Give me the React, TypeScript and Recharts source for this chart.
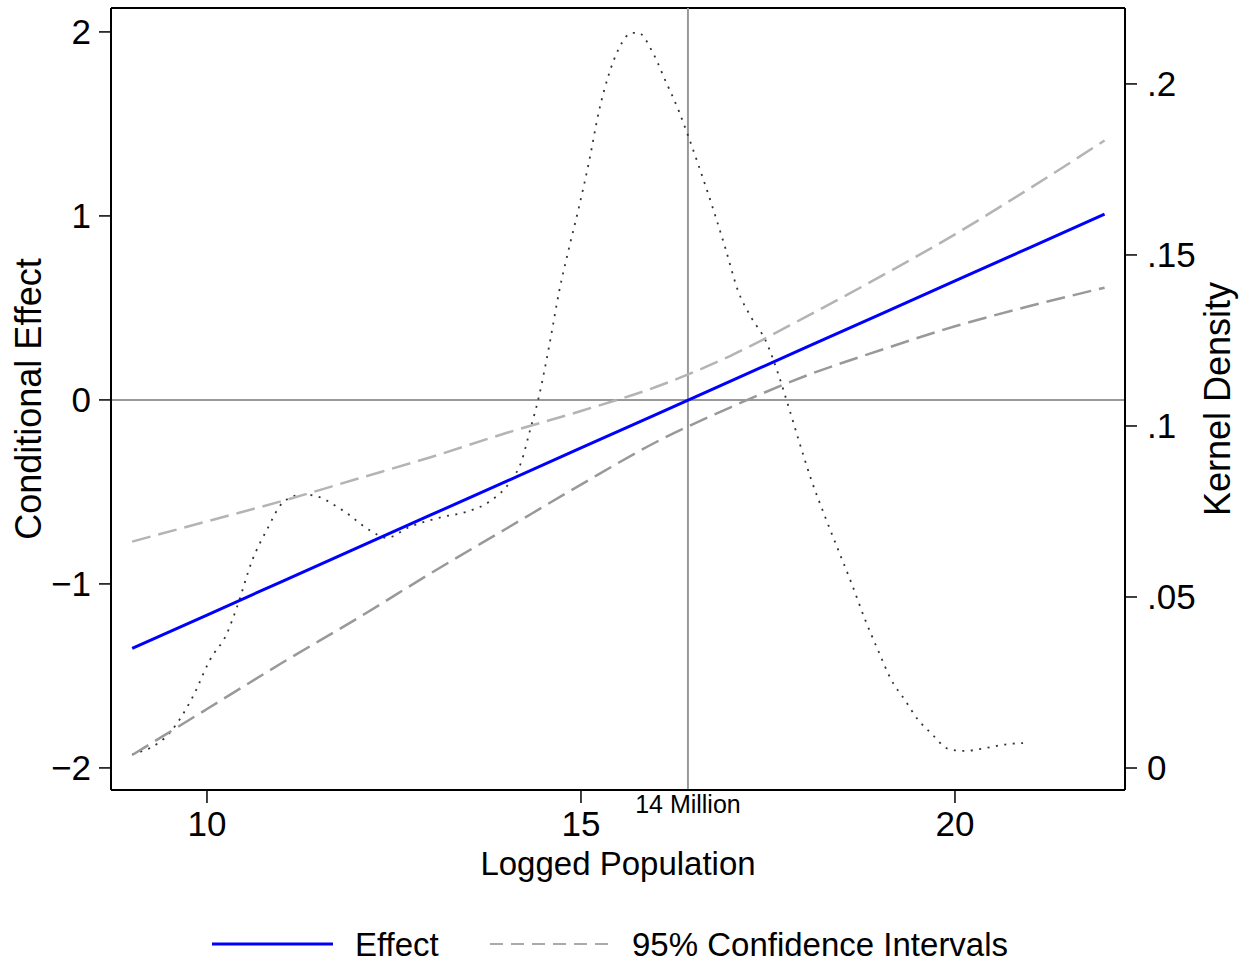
import { ComposedChart, Line, XAxis, YAxis, ReferenceLine, Legend } from "recharts";

// logged population grid for the marginal effect line
const popGrid = [9, 10, 11, 12, 13, 14, 15, 16, 17, 18, 19, 20, 21, 22];
const effect = [-1.35, -1.169, -0.987, -0.806, -0.624, -0.443, -0.261, -0.08, 0.102, 0.284, 0.465, 0.647, 0.828, 1.01];
const ciUpper = [-0.77, -0.66, -0.55, -0.43, -0.31, -0.18, -0.06, 0.07, 0.24, 0.45, 0.67, 0.9, 1.15, 1.41];
const ciLower = [-1.93, -1.68, -1.43, -1.19, -0.94, -0.7, -0.46, -0.23, -0.04, 0.13, 0.27, 0.4, 0.51, 0.61];

// kernel density of logged population
const densityX = [
  9.0, 9.51, 9.81, 10.04, 10.27, 10.4, 10.61, 10.8, 11.01, 11.24, 11.37, 11.81, 12.17, 12.4, 12.71,
  13.15, 13.47, 13.81, 14.04, 14.21, 14.31, 14.44, 14.57, 14.71, 14.84, 14.97, 15.11, 15.24, 15.37,
  15.51, 15.68, 15.77, 15.95, 16.13, 16.31, 16.43, 16.57, 16.75, 16.93, 17.1, 17.28, 17.47, 17.64,
  17.77, 17.91, 18.08, 18.27, 18.44, 18.61, 18.8, 18.97, 19.15, 19.33, 19.51, 19.68, 19.91, 20.13,
  20.4, 20.71, 20.91,
];
const densityY = [
  0.004, 0.0105, 0.0208, 0.0316, 0.0395, 0.047, 0.061, 0.0696, 0.0775, 0.0798, 0.0798, 0.0754, 0.0696,
  0.0673, 0.0705, 0.0734, 0.0749, 0.0784, 0.0833, 0.09, 0.098, 0.1088, 0.1228, 0.1395, 0.152, 0.1637,
  0.1775, 0.192, 0.2026, 0.2105, 0.2149, 0.2149, 0.2096, 0.2009, 0.192, 0.185, 0.1763, 0.1646, 0.152,
  0.1395, 0.1316, 0.1249, 0.115, 0.106, 0.0959, 0.0842, 0.0731, 0.0637, 0.0544, 0.0433, 0.0345, 0.0257,
  0.0199, 0.014, 0.0102, 0.0056, 0.005, 0.0058, 0.007, 0.0073,
];

const xTicks = [10, 15, 20];
const leftTicks = [-2, -1, 0, 1, 2];
const rightTicks = [0, 0.05, 0.1, 0.15, 0.2];
const cutoff = 16.43; // log(14 million)

const xDomain = [8.717, 22.273];
const leftDomain = [-2.12, 2.13];
const rightDomain = [-0.00643, 0.2222];

const effectData = popGrid.map((x, i) => ({ x, effect: effect[i], upper: ciUpper[i], lower: ciLower[i] }));
const densityData = densityX.map((x, i) => ({ x, density: densityY[i] }));

const font = '"Liberation Sans", Arial, sans-serif';

const minus = (v: number) => String(v).replace("-", "\u2212");
const dotFmt = (v: number) => (v === 0 ? "0" : String(v).replace(/^0/, ""));

const renderLegend = () => (
  <div style={{ height: 44, position: "relative", fontFamily: font, fontSize: 33, color: "#000" }}>
    <svg width={1247} height={44} style={{ position: "absolute", left: 0, top: 0 }}>
      <line x1={212} x2={333} y1={22} y2={22} stroke="#0000ff" strokeWidth={3} />
      <text x={355} y={34} fontSize={33} fontFamily={font}>Effect</text>
      <line x1={490} x2={612} y1={22} y2={22} stroke="#aaaaaa" strokeWidth={2} strokeDasharray="13 8" />
      <text x={632} y={34} fontSize={33} fontFamily={font}>95% Confidence Intervals</text>
    </svg>
  </div>
);

export default function App() {
  return (
    <div style={{ position: "absolute", left: 0, top: 0, width: 1247, height: 966, background: "#fff" }}>
      <ComposedChart width={1247} height={966} margin={{ top: 8, right: 0, bottom: 0, left: 0 }}>
        <XAxis
          dataKey="x"
          type="number"
          domain={xDomain}
          ticks={xTicks}
          allowDataOverflow
          height={132}
          tickSize={13}
          tickMargin={8}
          axisLine={{ stroke: "#000", strokeWidth: 2 }}
          tickLine={{ stroke: "#000", strokeWidth: 1.5 }}
          tick={{ fill: "#000", fontSize: 35, fontFamily: font }}
          label={({ viewBox }: any) => (
            <text x={viewBox.x + viewBox.width / 2} y={viewBox.y + 85} textAnchor="middle" fontSize={33} fontFamily={font} fill="#000">
              Logged Population
            </text>
          )}
        />
        <YAxis
          yAxisId="left"
          type="number"
          domain={leftDomain}
          ticks={leftTicks}
          allowDataOverflow
          width={111}
          tickSize={12}
          tickMargin={8}
          tickFormatter={minus}
          axisLine={{ stroke: "#000", strokeWidth: 2 }}
          tickLine={{ stroke: "#000", strokeWidth: 1.5 }}
          tick={{ fill: "#000", fontSize: 35, fontFamily: font }}
          label={({ viewBox }: any) => (
            <text
              x={28}
              y={viewBox.y + viewBox.height / 2}
              transform={`rotate(-90 28 ${viewBox.y + viewBox.height / 2})`}
              textAnchor="middle"
              dominantBaseline="central"
              fontSize={36}
              fontFamily={font}
              fill="#000"
            >
              Conditional Effect
            </text>
          )}
        />
        <YAxis
          yAxisId="right"
          orientation="right"
          type="number"
          domain={rightDomain}
          ticks={rightTicks}
          allowDataOverflow
          width={122}
          tickSize={12}
          tickMargin={10}
          tickFormatter={dotFmt}
          axisLine={{ stroke: "#000", strokeWidth: 2 }}
          tickLine={{ stroke: "#000", strokeWidth: 1.5 }}
          tick={{ fill: "#000", fontSize: 35, fontFamily: font }}
          label={({ viewBox }: any) => {
            const cx = viewBox.x + 92;
            const cy = viewBox.y + viewBox.height / 2;
            return (
              <text x={cx} y={cy} transform={`rotate(-90 ${cx} ${cy})`} textAnchor="middle" dominantBaseline="central" fontSize={36} fontFamily={font} fill="#000">
                Kernel Density
              </text>
            );
          }}
        />
        <ReferenceLine yAxisId="left" y={leftDomain[1]} stroke="#000" strokeWidth={2} />
        <ReferenceLine yAxisId="left" y={0} stroke="#999" strokeWidth={2} />
        <ReferenceLine
          yAxisId="left"
          x={cutoff}
          stroke="#999"
          strokeWidth={2}
          label={({ viewBox }: any) => (
            <text x={viewBox.x} y={viewBox.y + viewBox.height + 23} textAnchor="middle" fontSize={25} fontFamily={font} fill="#000">
              14 Million
            </text>
          )}
        />
        <Line
          yAxisId="right"
          data={densityData}
          dataKey="density"
          type="monotone"
          stroke="#333"
          strokeWidth={1.8}
          strokeDasharray="2 6.5"
          dot={false}
          isAnimationActive={false}
        />
        <Line yAxisId="left" data={effectData} dataKey="upper" type="monotone" stroke="#b4b4b4" strokeWidth={2.5} strokeDasharray="19 8" dot={false} isAnimationActive={false} />
        <Line yAxisId="left" data={effectData} dataKey="lower" type="monotone" stroke="#999999" strokeWidth={2.5} strokeDasharray="19 8" dot={false} isAnimationActive={false} />
        <Line yAxisId="left" data={effectData} dataKey="effect" type="linear" stroke="#0000ff" strokeWidth={3} dot={false} isAnimationActive={false} />
        <Legend verticalAlign="bottom" content={renderLegend} />
      </ComposedChart>
    </div>
  );
}
